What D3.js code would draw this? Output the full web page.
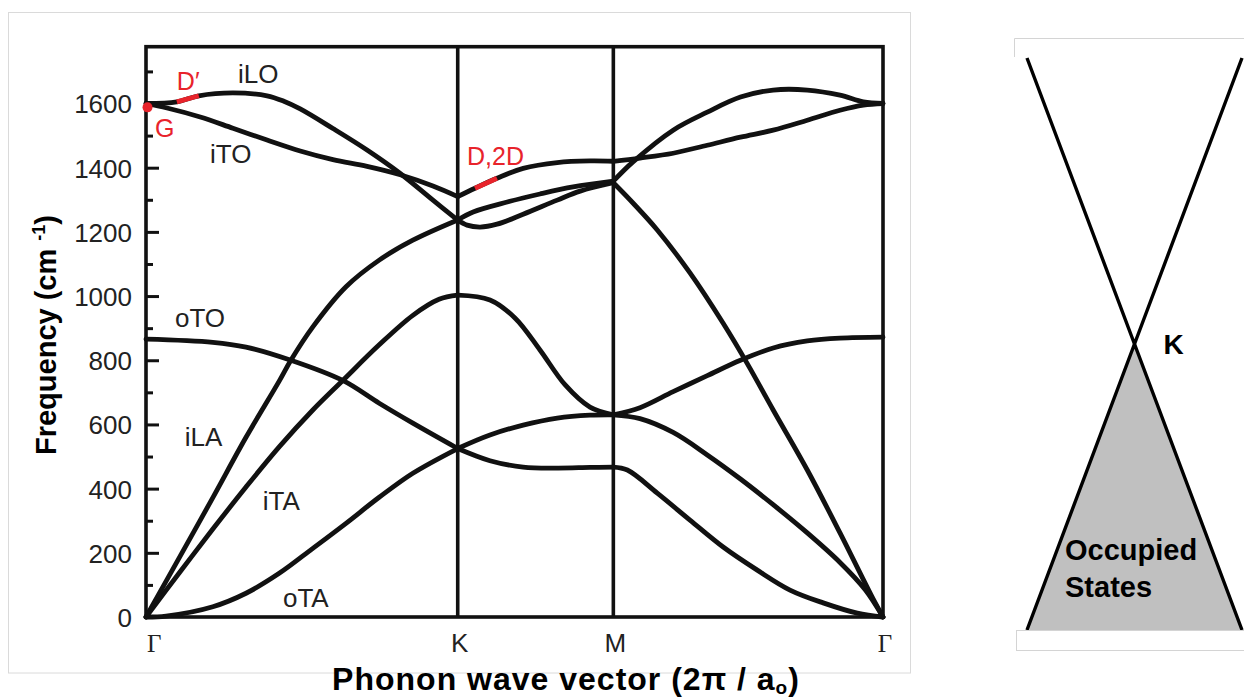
<!DOCTYPE html>
<html>
<head>
<meta charset="utf-8">
<script src="https://cdn.jsdelivr.net/npm/d3@7"></script>
<style>
  html, body { margin: 0; padding: 0; background: #fff; }
  svg { display: block; font-family: "Liberation Sans", Arial, Helvetica, sans-serif; }
</style>
</head>
<body>
<svg id="chart" width="1244" height="699"></svg>
<script>
// High-symmetry points along the path Γ–K–M–Γ (wave vector in units of 2π/a0)
const symLabels = ["Γ", "K", "M", "Γ"];
const symQ = [0, 0.667, 1.0, 1.577];

// Frequency axis ticks (cm^-1)
const yTicks = [0, 200, 400, 600, 800, 1000, 1200, 1400, 1600];
const yMinor = [100, 300, 500, 700, 900, 1100, 1300, 1500, 1700];

// Phonon branches: [q, frequency] along Γ–K–M–Γ
const oTA = [
  [0, 0], [0.043, 3], [0.143, 32], [0.214, 74], [0.285, 136], [0.357, 214], [0.428, 292], [0.499, 373], [0.571, 448], [0.667, 525],
  [0.736, 487], [0.807, 467], [0.880, 464], [0.950, 466], [1.0, 467],
  [1.030, 458], [1.094, 386], [1.164, 302], [1.235, 218], [1.308, 146], [1.378, 84], [1.449, 44], [1.522, 12], [1.577, 0]
];
const oTO = [
  [0, 866], [0.143, 856], [0.214, 841], [0.310, 800], [0.421, 737], [0.499, 666], [0.571, 604], [0.667, 525],
  [0.736, 567], [0.807, 598], [0.880, 620], [0.950, 629], [1.0, 630],
  [1.057, 652], [1.128, 702], [1.201, 752], [1.272, 800], [1.342, 838], [1.415, 860], [1.485, 869], [1.577, 872]
];
const iTA = [
  [0, 0], [0.071, 137], [0.143, 274], [0.214, 405], [0.285, 530], [0.357, 645], [0.421, 737], [0.499, 848], [0.571, 940], [0.627, 990], [0.667, 1003],
  [0.736, 988], [0.790, 931], [0.843, 832], [0.897, 723], [0.950, 654], [1.0, 630],
  [1.057, 618], [1.128, 575], [1.201, 505], [1.272, 430], [1.342, 350], [1.415, 262], [1.485, 170], [1.539, 85], [1.577, 0]
];
const iLA = [
  [0, 0], [0.071, 184], [0.143, 372], [0.214, 560], [0.285, 735], [0.310, 800], [0.357, 904], [0.428, 1029], [0.499, 1112], [0.571, 1174], [0.667, 1237],
  [0.687, 1221], [0.715, 1215], [0.751, 1224], [0.807, 1255], [0.880, 1299], [0.929, 1327], [1.0, 1353],
  [1.042, 1290], [1.094, 1206], [1.164, 1072], [1.235, 915], [1.286, 791], [1.342, 645], [1.415, 458], [1.485, 262], [1.557, 53], [1.577, 0]
];
const iLO = [
  [0, 1600], [0.066, 1605], [0.113, 1624], [0.186, 1633], [0.259, 1624], [0.295, 1607], [0.330, 1583], [0.400, 1522], [0.473, 1455], [0.544, 1382], [0.614, 1299], [0.667, 1237],
  [0.700, 1262], [0.773, 1293], [0.843, 1318], [0.914, 1340], [1.0, 1358],
  [1.042, 1418], [1.128, 1517], [1.201, 1573], [1.272, 1620], [1.342, 1642], [1.415, 1642], [1.485, 1626], [1.535, 1605], [1.577, 1600]
];
const iTO = [
  [0, 1600], [0.045, 1586], [0.116, 1558], [0.186, 1523], [0.259, 1486], [0.330, 1452], [0.400, 1425], [0.473, 1404], [0.544, 1378], [0.614, 1343], [0.667, 1310],
  [0.704, 1336], [0.751, 1367], [0.807, 1398], [0.880, 1416], [0.950, 1421], [1.0, 1420],
  [1.057, 1430], [1.128, 1445], [1.201, 1470], [1.272, 1495], [1.342, 1517], [1.415, 1548], [1.485, 1579], [1.535, 1595], [1.577, 1600]
];
const branches = [oTA, oTO, iTA, iLA, iLO, iTO];

// Raman-active phonons highlighted in red
const gPoint = [0, 1588];
const dPrimeSegment = [[0.066, 1605], [0.113, 1624]];
const dSegment = [[0.704, 1336], [0.751, 1367]];

// Branch names, anchored in data coordinates
const branchLabels = [
  { text: "iLO", q: 0.197, f: 1664 },
  { text: "iTO", q: 0.137, f: 1415 },
  { text: "oTO", q: 0.062, f: 904 },
  { text: "iLA", q: 0.083, f: 533 },
  { text: "iTA", q: 0.250, f: 333 },
  { text: "oTA", q: 0.293, f: 31 }
];
const ramanLabels = [
  { text: "D′", q: 0.066, f: 1642 },
  { text: "G", q: 0.019, f: 1496 },
  { text: "D,2D", q: 0.687, f: 1408 }
];

// Dirac cone near K: band energy vs. momentum
const upperBand = [[-1, 1], [0, 0], [1, 1]];
const lowerBand = [[-1, -1], [0, 0], [1, -1]];

const svg = d3.select("#chart");
const RED = "#e8232b";
const INK = "#111";

const x = d3.scaleLinear().domain([0, 1.577]).range([146, 883]);
const y = d3.scaleLinear().domain([0, 1777]).range([617, 46.7]);

// light border round the dispersion panel
svg.append("rect")
  .attr("x", 8.5).attr("y", 12.5).attr("width", 902).attr("height", 660.5)
  .attr("fill", "none").attr("stroke", "#dadada").attr("stroke-width", 1);

// y tick labels
svg.append("g")
  .attr("transform", `translate(${x(0)},0)`)
  .call(d3.axisLeft(y).tickValues(yTicks).tickSize(0).tickPadding(14).tickFormat(d3.format("d")))
  .call(g => g.select(".domain").remove())
  .attr("font-size", 26)
  .attr("font-family", '"Liberation Sans", Arial, sans-serif')
  .selectAll("text").attr("fill", "#222").attr("dy", "0.36em");

// inward ticks, major and minor
svg.append("g")
  .attr("transform", `translate(${x(0)},0)`)
  .style("color", INK)
  .call(d3.axisRight(y).tickValues(yTicks).tickSize(13).tickFormat(""))
  .call(g => g.select(".domain").remove())
  .selectAll("line").attr("stroke-width", 3);
svg.append("g")
  .attr("transform", `translate(${x(0)},0)`)
  .style("color", INK)
  .call(d3.axisRight(y).tickValues(yMinor).tickSize(7).tickFormat(""))
  .call(g => g.select(".domain").remove())
  .selectAll("line").attr("stroke-width", 3);

// vertical lines at K and M
svg.append("g").selectAll("line")
  .data(symQ.slice(1, 3))
  .join("line")
  .attr("x1", d => x(d)).attr("x2", d => x(d))
  .attr("y1", y(1777)).attr("y2", y(0))
  .attr("stroke", INK).attr("stroke-width", 3.6);

// plot frame
svg.append("rect")
  .attr("x", x(0)).attr("y", y(1777))
  .attr("width", x(1.577) - x(0)).attr("height", y(0) - y(1777))
  .attr("fill", "none").attr("stroke", INK).attr("stroke-width", 3.6);

// dispersion branches, each drawn piecewise between symmetry points
const line = d3.line().x(d => x(d[0])).y(d => y(d[1])).curve(d3.curveCatmullRom.alpha(0.5));
const eps = 1e-9;
const pieces = [];
branches.forEach(b => {
  for (let i = 0; i < symQ.length - 1; i++) {
    const a = symQ[i], c = symQ[i + 1];
    pieces.push(b.filter(p => p[0] >= a - eps && p[0] <= c + eps));
  }
});
svg.append("g").selectAll("path")
  .data(pieces)
  .join("path")
  .attr("d", line)
  .attr("fill", "none")
  .attr("stroke", INK)
  .attr("stroke-width", 4.8)
  .attr("stroke-linecap", "round")
  .attr("stroke-linejoin", "round");

// Raman marks
const straight = d3.line().x(d => x(d[0])).y(d => y(d[1]));
svg.append("g").selectAll("path")
  .data([dPrimeSegment, dSegment])
  .join("path")
  .attr("d", straight)
  .attr("fill", "none").attr("stroke", RED).attr("stroke-width", 4.8);
svg.append("circle")
  .attr("cx", x(gPoint[0]) + 1.5).attr("cy", y(gPoint[1])).attr("r", 5)
  .attr("fill", RED);

// branch labels
svg.append("g").selectAll("text")
  .data(branchLabels)
  .join("text")
  .attr("x", d => x(d.q)).attr("y", d => y(d.f))
  .attr("font-size", 26).attr("fill", "#222")
  .text(d => d.text);
svg.append("g").selectAll("text")
  .data(ramanLabels)
  .join("text")
  .attr("x", d => x(d.q)).attr("y", d => y(d.f))
  .attr("font-size", 25).attr("fill", RED)
  .text(d => d.text);

// symmetry point labels
svg.append("g").selectAll("text")
  .data(symLabels.map((t, i) => ({ t, q: symQ[i], i })))
  .join("text")
  .attr("x", d => x(d.q) + (d.i === 0 ? 1 : 2))
  .attr("y", 652)
  .attr("text-anchor", d => d.i === 0 ? "start" : "middle")
  .attr("font-family", d => d.t === "Γ" ? '"Liberation Serif", "Times New Roman", serif' : null)
  .attr("font-size", d => d.t === "Γ" ? 25 : 26)
  .attr("fill", "#222")
  .text(d => d.t);

// axis titles
const yTitle = svg.append("text")
  .attr("transform", "translate(56,335) rotate(-90)")
  .attr("text-anchor", "middle")
  .attr("font-size", 29).attr("font-weight", "bold").attr("fill", "#000");
yTitle.append("tspan").text("Frequency (cm ");
yTitle.append("tspan").attr("font-size", 18).attr("dy", -11).text("-1");
yTitle.append("tspan").attr("dy", 11).text(")");

const xTitle = svg.append("text")
  .attr("x", 566).attr("y", 690)
  .attr("text-anchor", "middle")
  .attr("letter-spacing", 1)
  .attr("font-size", 32).attr("font-weight", "bold").attr("fill", "#000");
xTitle.append("tspan").text("Phonon wave vector (2π / a");
xTitle.append("tspan").attr("font-size", 19).attr("dy", 4).text("o");
xTitle.append("tspan").attr("dy", -4).text(")");

// ---- Dirac cone at K ----
const cx = d3.scaleLinear().domain([-1, 1]).range([1027, 1242]);
const cy = d3.scaleLinear().domain([-1, 1]).range([630, 58]);
const coneLine = d3.line().x(d => cx(d[0])).y(d => cy(d[1]));

svg.append("path")
  .attr("d", coneLine(lowerBand) + "Z")
  .attr("fill", "#c0c0c0").attr("stroke", "none");
svg.append("g").selectAll("path")
  .data([upperBand, lowerBand])
  .join("path")
  .attr("d", coneLine)
  .attr("fill", "none").attr("stroke", "#000").attr("stroke-width", 3.4)
  .attr("stroke-linejoin", "miter");

// light frames capping the cone
svg.append("path")
  .attr("d", "M1014.5,57V38.5H1244")
  .attr("fill", "none").attr("stroke", "#d4d4d4").attr("stroke-width", 1);
svg.append("rect")
  .attr("x", 1016.5).attr("y", 630.5).attr("width", 240).attr("height", 20)
  .attr("fill", "#fff").attr("stroke", "#d4d4d4").attr("stroke-width", 1);

svg.append("text")
  .attr("x", cx(0) + 29).attr("y", cy(0) + 10)
  .attr("font-size", 28).attr("font-weight", "bold").attr("fill", "#000")
  .text("K");
const occ = svg.append("text")
  .attr("font-size", 29).attr("font-weight", "bold").attr("fill", "#000");
occ.append("tspan").attr("x", 1065).attr("y", 560).text("Occupied");
occ.append("tspan").attr("x", 1065).attr("y", 597).text("States");
</script>
</body>
</html>
